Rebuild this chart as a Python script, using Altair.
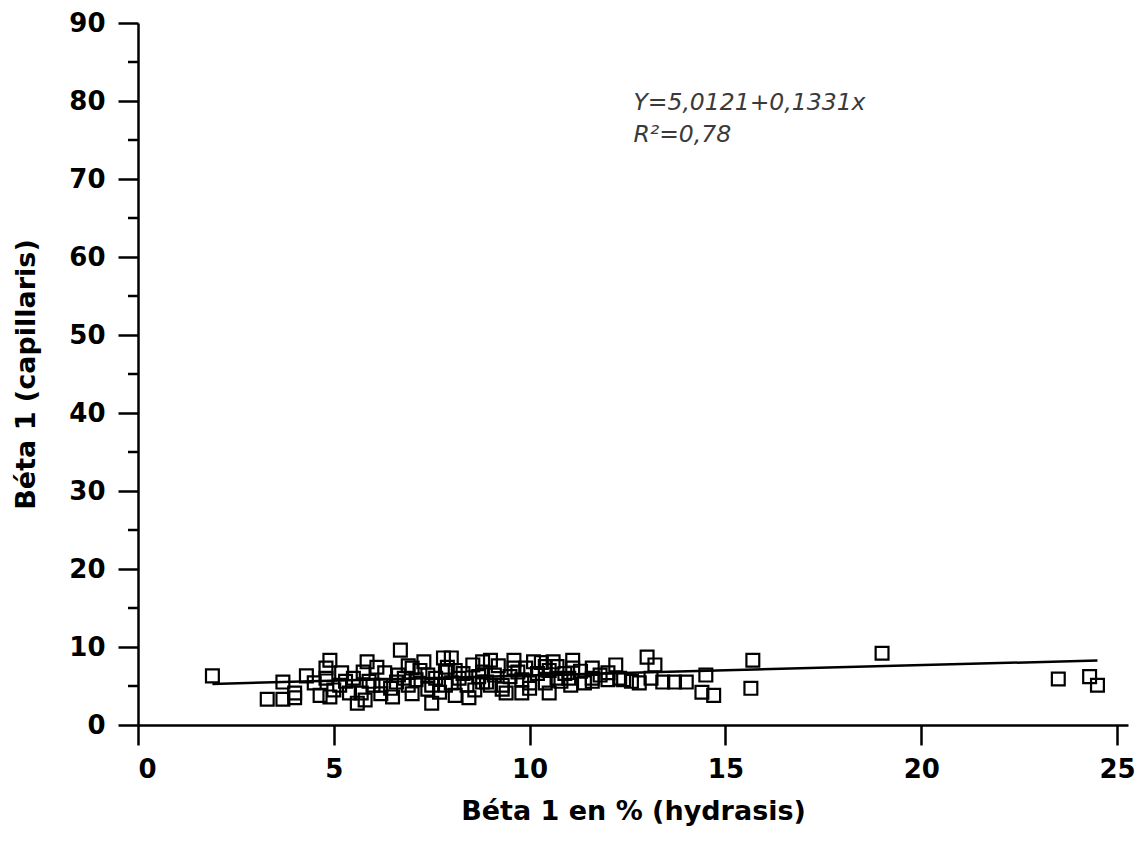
import altair as alt
import pandas as pd

# Scatter data (Béta 1 en % hydrasis vs Béta 1 capillaris)
hx = [1.9, 3.3, 3.7, 3.7, 4.0, 4.0, 4.3, 4.65, 4.8, 4.9, 4.9, 4.8, 4.5, 5.0,
      6.7, 5.85, 5.75, 5.2, 5.15, 5.4, 5.6, 5.7, 6.0, 6.2, 6.3, 6.45, 6.5, 6.65,
      6.9, 7.0, 7.3, 7.4, 7.5, 7.5, 7.8, 7.85, 7.85, 8.0, 8.1, 8.1, 8.4, 8.45,
      8.55, 8.8, 8.8, 5.8,
      5.5, 5.9, 6.1, 6.8, 7.0, 7.1, 7.2, 7.6, 7.7, 8.2, 8.3, 8.6, 6.6, 6.9, 7.4,
      8.0, 6.2, 5.3, 7.9, 8.7,
      9.0, 9.6, 9.6, 9.9, 10.4, 10.7, 11.1, 11.1, 12.2, 12.3, 12.0, 11.6, 11.6,
      8.9, 9.3, 9.4, 9.8, 10.0, 10.4, 10.5, 10.7, 11.0, 11.05, 8.8, 9.1, 9.0,
      11.6, 11.8,
      9.2, 9.5, 9.8, 10.1, 10.2, 10.5, 10.8, 10.9, 9.3, 10.0, 11.3, 10.3, 9.7,
      10.6, 11.4, 12.0, 12.4,
      13.0, 13.2, 12.8, 12.6, 13.1, 13.4, 13.7, 14.0, 14.5, 14.4, 14.7, 15.7,
      15.65, 19.0, 23.5, 24.3, 24.5]
cy = [6.3, 3.3, 3.3, 5.5, 4.1, 3.5, 6.3, 3.8, 7.3, 8.3, 3.6, 6.0, 5.4, 4.5,
      9.6, 8.1, 6.8, 6.7, 5.1, 4.1, 2.8, 4.1, 5.1, 5.1, 6.7, 4.7, 3.6, 6.4,
      5.1, 7.3, 8.1, 6.4, 5.1, 2.8, 8.6, 6.8, 5.1, 8.6, 7.0, 3.8, 5.1, 3.5,
      7.7, 8.1, 5.5, 3.2,
      6.0, 5.6, 7.4, 6.0, 4.0, 5.8, 7.0, 6.0, 4.2, 6.0, 6.6, 4.5, 5.5, 7.6, 4.6,
      5.4, 4.0, 5.6, 7.4, 6.2,
      8.3, 8.3, 7.3, 7.3, 7.5, 7.5, 8.3, 7.3, 7.7, 6.0, 6.7, 7.3, 6.0,
      5.5, 5.1, 4.1, 4.1, 5.4, 5.4, 4.1, 6.0, 6.0, 5.1, 6.8, 6.4, 5.1,
      5.6, 6.4,
      7.6, 6.2, 5.8, 8.1, 6.6, 7.0, 5.6, 6.6, 4.6, 4.7, 6.9, 8.0, 6.8,
      8.1, 5.4, 5.8, 5.8,
      8.7, 7.7, 5.4, 5.6, 6.0, 5.5, 5.5, 5.5, 6.4, 4.2, 3.8, 8.3,
      4.7, 9.2, 5.9, 6.2, 5.1]

# Fitted line Y = 5,0121 + 0,1331x (endpoints as drawn)
line_x = [1.9, 24.5]
line_y = [5.27, 8.27]

# Annotation
ann_x = [12.65, 12.65]
ann_y = [78.8, 74.7]
ann_text = ["Y=5,0121+0,1331x", "R²=0,78"]

# Minor ticks on y axis
minor_y = [5, 15, 25, 35, 45, 55, 65, 75, 85]

pts = pd.DataFrame({"x": hx, "y": cy})
ln = pd.DataFrame({"x": line_x, "y": line_y})
ann = pd.DataFrame({"x": ann_x, "y": ann_y, "t": ann_text})
mn = pd.DataFrame({"y": minor_y})

FONT = "DejaVu Sans"

xscale = alt.Scale(domain=[0, 25.28], nice=False, zero=False)
yscale = alt.Scale(domain=[0, 90], nice=False, zero=False)

xaxis = alt.Axis(values=[0, 5, 10, 15, 20, 25], title="Béta 1 en % (hydrasis)",
                 grid=False, domainColor="black", domainWidth=2.5,
                 tickColor="black", tickWidth=2.5, tickSize=20,
                 labelFont=FONT, labelFontSize=26, labelFontWeight="bold",
                 labelColor="black", labelPadding=11,
                 titleFont=FONT, titleFontSize=27, titleFontWeight="bold",
                 titleColor="black", titlePadding=16)
yaxis = alt.Axis(values=[0, 10, 20, 30, 40, 50, 60, 70, 80, 90],
                 title="Béta 1 (capillaris)",
                 grid=False, domainColor="black", domainWidth=2.5,
                 tickColor="black", tickWidth=2.5, tickSize=20,
                 labelFont=FONT, labelFontSize=26, labelFontWeight="bold",
                 labelColor="black", labelPadding=13,
                 titleFont=FONT, titleFontSize=27, titleFontWeight="bold",
                 titleColor="black", titlePadding=28)

scatter = alt.Chart(pts).mark_point(
    shape="square", filled=False, color="black", strokeWidth=2.2, size=165, opacity=1
).encode(
    x=alt.X("x:Q", scale=xscale, axis=xaxis),
    y=alt.Y("y:Q", scale=yscale, axis=yaxis),
)

line = alt.Chart(ln).mark_line(color="black", strokeWidth=2.5).encode(
    x=alt.X("x:Q", scale=xscale),
    y=alt.Y("y:Q", scale=yscale),
)

minor = alt.Chart(mn).mark_rule(color="black", strokeWidth=2.5).encode(
    x=alt.value(-10), x2=alt.value(0),
    y=alt.Y("y:Q", scale=yscale),
)

text = alt.Chart(ann).mark_text(
    align="left", baseline="alphabetic", font="DejaVu Sans", fontStyle="italic",
    fontSize=23.5, color="#3a3a3a"
).encode(
    x=alt.X("x:Q", scale=xscale),
    y=alt.Y("y:Q", scale=yscale),
    text="t:N",
)

chart = alt.layer(minor, line, scatter, text).properties(
    width=990, height=702,
    autosize=alt.AutoSizeParams(type="none"),
    padding={"left": 138, "top": 23, "right": 14, "bottom": 117},
    background="white",
).configure_view(stroke=None)

chart.save("out.html", embed_options={"renderer": "svg", "actions": False})
